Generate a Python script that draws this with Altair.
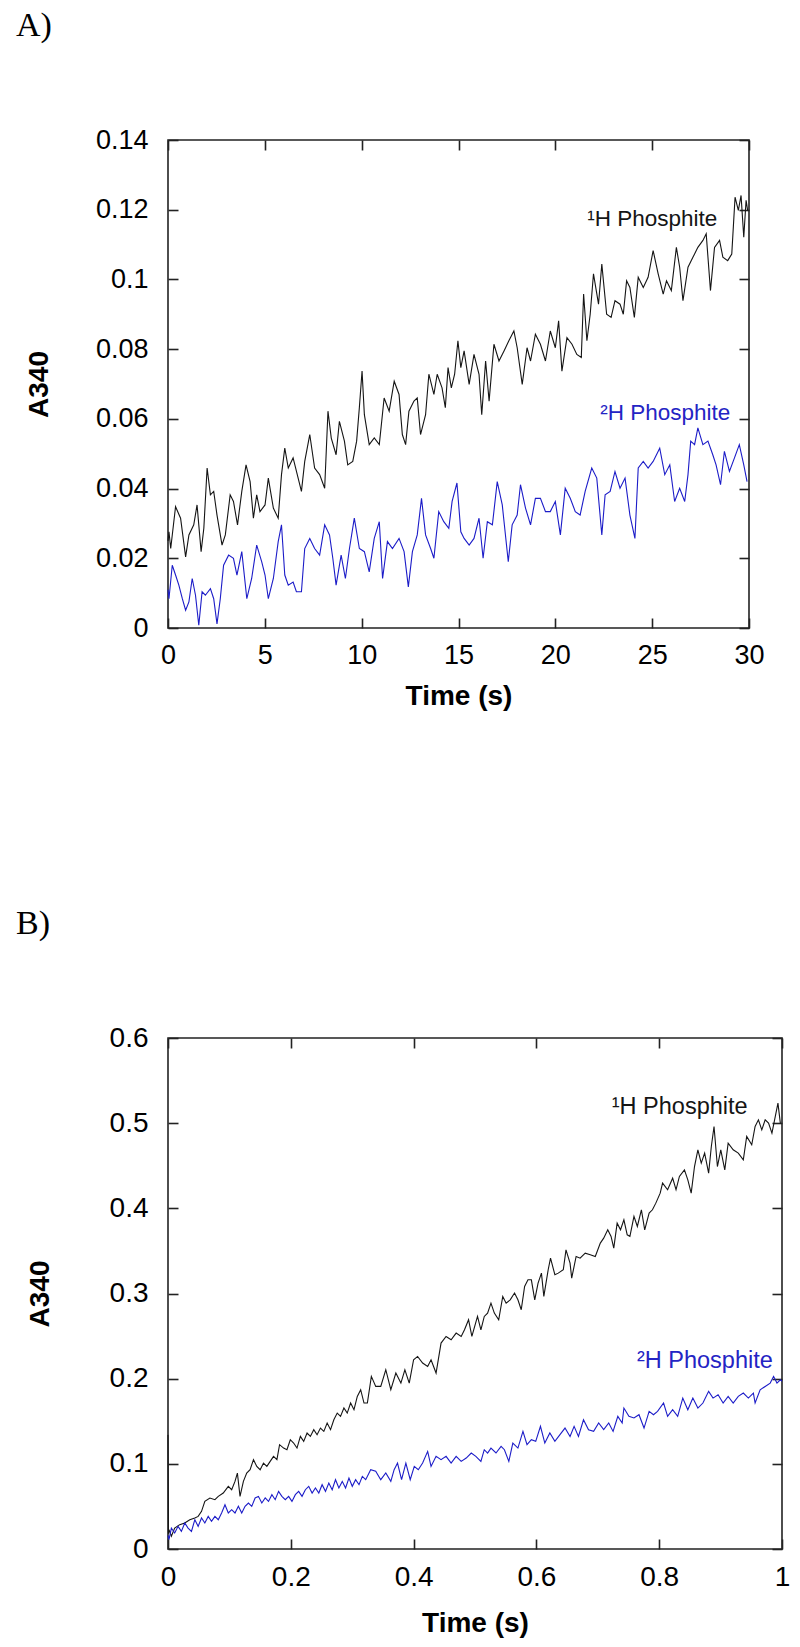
import altair as alt
import pandas as pd

# ---------------- Panel A data (time s, A340) ----------------
A_1H = [(0.0,0.0250),(0.05,0.0276),(0.14,0.0228),(0.39,0.0348),(0.65,0.0315),(0.91,0.0204),(1.08,0.0267),(1.33,0.0296),(1.50,0.0353),(1.71,0.0219),(1.85,0.0286),(2.02,0.0459),(2.19,0.0382),(2.36,0.0392),(2.53,0.0324),(2.79,0.0238),(2.96,0.0267),(3.21,0.0382),(3.38,0.0363),(3.59,0.0296),(3.81,0.0392),(4.03,0.0468),(4.24,0.0420),(4.41,0.0315),(4.58,0.0382),(4.75,0.0334),(5.01,0.0353),(5.18,0.0430),(5.44,0.0344),(5.69,0.0315),(5.86,0.0440),(6.03,0.0516),(6.21,0.0459),(6.46,0.0488),(6.72,0.0430),(6.89,0.0392),(7.06,0.0478),(7.32,0.0555),(7.57,0.0459),(7.83,0.0440),(8.09,0.0401),(8.26,0.0622),(8.43,0.0545),(8.68,0.0497),(8.85,0.0593),(9.11,0.0536),(9.28,0.0468),(9.54,0.0478),(9.74,0.0536),(9.88,0.0632),(10.02,0.0737),(10.14,0.0612),(10.39,0.0526),(10.65,0.0545),(10.91,0.0526),(11.16,0.0660),(11.42,0.0622),(11.68,0.0708),(11.93,0.0670),(12.10,0.0555),(12.27,0.0526),(12.44,0.0622),(12.70,0.0651),(12.87,0.0660),(13.04,0.0555),(13.30,0.0612),(13.47,0.0728),(13.73,0.0670),(13.90,0.0728),(14.15,0.0689),(14.32,0.0632),(14.46,0.0747),(14.63,0.0689),(14.80,0.0728),(14.97,0.0824),(15.12,0.0747),(15.29,0.0795),(15.55,0.0699),(15.80,0.0785),(16.06,0.0728),(16.20,0.0612),(16.40,0.0766),(16.58,0.0651),(16.83,0.0814),(17.09,0.0766),(17.35,0.0795),(17.60,0.0824),(17.86,0.0852),(18.03,0.0804),(18.29,0.0699),(18.54,0.0804),(18.72,0.0766),(18.97,0.0843),(19.23,0.0814),(19.49,0.0766),(19.74,0.0852),(20.00,0.0804),(20.17,0.0881),(20.34,0.0737),(20.60,0.0833),(20.86,0.0814),(21.11,0.0785),(21.34,0.0776),(21.46,0.0958),(21.63,0.0824),(21.80,0.0900),(21.97,0.1016),(22.23,0.0929),(22.40,0.1044),(22.65,0.0900),(22.88,0.0891),(23.08,0.0939),(23.34,0.0929),(23.51,0.0900),(23.68,0.0996),(23.85,0.0977),(24.08,0.0891),(24.28,0.1006),(24.54,0.0977),(24.79,0.1006),(25.05,0.1083),(25.31,0.1016),(25.57,0.0958),(25.74,0.0996),(25.99,0.0968),(26.25,0.1092),(26.42,0.1035),(26.59,0.0939),(26.85,0.1035),(27.11,0.1064),(27.36,0.1092),(27.62,0.1112),(27.79,0.1131),(28.01,0.0968),(28.22,0.1092),(28.48,0.1112),(28.65,0.1064),(28.90,0.1054),(29.11,0.1073),(29.28,0.1236),(29.45,0.1198),(29.59,0.1241),(29.73,0.1121),(29.85,0.1227),(29.93,0.1198)]

A_2H = [(0.0,0.0110),(0.05,0.0084),(0.22,0.0180),(0.39,0.0152),(0.56,0.0123),(0.74,0.0084),(0.91,0.0051),(1.08,0.0075),(1.25,0.0142),(1.42,0.0094),(1.59,0.0008),(1.76,0.0104),(1.93,0.0094),(2.19,0.0113),(2.36,0.0084),(2.53,0.0012),(2.70,0.0084),(2.87,0.0180),(3.13,0.0209),(3.38,0.0200),(3.56,0.0152),(3.81,0.0219),(4.07,0.0084),(4.32,0.0142),(4.58,0.0238),(4.84,0.0190),(5.01,0.0152),(5.18,0.0084),(5.44,0.0142),(5.69,0.0248),(5.86,0.0296),(6.03,0.0152),(6.21,0.0123),(6.46,0.0132),(6.63,0.0104),(6.89,0.0104),(7.06,0.0228),(7.32,0.0257),(7.57,0.0228),(7.83,0.0209),(8.09,0.0296),(8.34,0.0267),(8.51,0.0200),(8.68,0.0123),(8.94,0.0209),(9.16,0.0142),(9.37,0.0228),(9.62,0.0315),(9.88,0.0228),(10.14,0.0219),(10.39,0.0161),(10.65,0.0257),(10.91,0.0305),(11.08,0.0142),(11.33,0.0248),(11.59,0.0228),(11.93,0.0257),(12.19,0.0219),(12.41,0.0118),(12.62,0.0219),(12.87,0.0267),(13.09,0.0372),(13.30,0.0267),(13.56,0.0228),(13.73,0.0200),(13.98,0.0334),(14.24,0.0305),(14.50,0.0286),(14.67,0.0363),(14.92,0.0416),(15.12,0.0276),(15.29,0.0257),(15.55,0.0238),(15.80,0.0257),(16.06,0.0315),(16.27,0.0200),(16.49,0.0305),(16.75,0.0296),(17.00,0.0420),(17.26,0.0353),(17.57,0.0190),(17.77,0.0296),(18.03,0.0324),(18.20,0.0411),(18.46,0.0344),(18.72,0.0296),(18.97,0.0372),(19.23,0.0372),(19.49,0.0334),(19.74,0.0334),(20.00,0.0363),(20.26,0.0267),(20.51,0.0401),(20.77,0.0372),(21.03,0.0334),(21.28,0.0324),(21.54,0.0392),(21.88,0.0459),(22.14,0.0430),(22.40,0.0267),(22.57,0.0382),(22.83,0.0392),(23.08,0.0449),(23.34,0.0401),(23.60,0.0430),(23.85,0.0324),(24.11,0.0257),(24.28,0.0459),(24.54,0.0478),(24.79,0.0459),(25.05,0.0478),(25.39,0.0516),(25.65,0.0440),(25.91,0.0468),(26.16,0.0363),(26.42,0.0401),(26.68,0.0363),(26.85,0.0440),(26.99,0.0536),(27.19,0.0526),(27.36,0.0574),(27.62,0.0526),(27.88,0.0536),(28.13,0.0497),(28.30,0.0468),(28.53,0.0411),(28.73,0.0507),(28.99,0.0449),(29.25,0.0488),(29.50,0.0526),(29.73,0.0468),(29.90,0.0420)]

# ---------------- Panel B data (time s, A340) ----------------
B_1H = [(0.0,0.134),(0.0008,0.0180),(0.0016,0.0227),(0.0055,0.0149),(0.0109,0.0246),(0.0191,0.0286),(0.0273,0.0305),(0.0355,0.0344),(0.0437,0.0364),(0.0491,0.0383),(0.0546,0.0442),(0.0600,0.0559),(0.0682,0.0599),(0.0764,0.0579),(0.0819,0.0618),(0.0900,0.0657),(0.0982,0.0736),(0.1037,0.0696),(0.1091,0.0794),(0.1130,0.0892),(0.1173,0.0618),(0.1228,0.0794),(0.1282,0.0892),(0.1337,0.0931),(0.1392,0.1049),(0.1446,0.0970),(0.1501,0.0931),(0.1555,0.1009),(0.1610,0.0970),(0.1664,0.1029),(0.1719,0.1088),(0.1774,0.1049),(0.1817,0.1225),(0.1883,0.1185),(0.1937,0.1166),(0.1992,0.1283),(0.2046,0.1244),(0.2101,0.1185),(0.2156,0.1322),(0.2210,0.1264),(0.2265,0.1362),(0.2319,0.1322),(0.2374,0.1401),(0.2428,0.1342),(0.2483,0.1420),(0.2538,0.1381),(0.2592,0.1479),(0.2647,0.1401),(0.2701,0.1518),(0.2756,0.1596),(0.2810,0.1557),(0.2865,0.1655),(0.2919,0.1596),(0.2974,0.1714),(0.3029,0.1635),(0.3083,0.1792),(0.3138,0.1870),(0.3192,0.1714),(0.3247,0.1714),(0.3312,0.2027),(0.3383,0.1909),(0.3465,0.1909),(0.3547,0.2105),(0.3629,0.1870),(0.3711,0.2066),(0.3793,0.1948),(0.3858,0.2105),(0.3929,0.1948),(0.4000,0.2222),(0.4065,0.2261),(0.4147,0.2183),(0.4229,0.2144),(0.4284,0.2222),(0.4366,0.2066),(0.4447,0.2418),(0.4529,0.2496),(0.4611,0.2457),(0.4693,0.2535),(0.4775,0.2496),(0.4829,0.2574),(0.4895,0.2692),(0.4949,0.2496),(0.5041,0.2731),(0.5096,0.2574),(0.5151,0.2731),(0.5205,0.2770),(0.5260,0.2887),(0.5315,0.2770),(0.5386,0.2692),(0.5452,0.2966),(0.5507,0.2887),(0.5573,0.2926),(0.5644,0.3005),(0.5699,0.2926),(0.5753,0.2809),(0.5808,0.3083),(0.5863,0.3161),(0.5918,0.3161),(0.5973,0.2926),(0.6027,0.3122),(0.6082,0.3239),(0.6121,0.2966),(0.6192,0.3279),(0.6230,0.3415),(0.6301,0.3220),(0.6356,0.3239),(0.6438,0.3279),(0.6482,0.3513),(0.6548,0.3357),(0.6575,0.3181),(0.6647,0.3435),(0.6712,0.3415),(0.6795,0.3474),(0.6877,0.3455),(0.6959,0.3435),(0.7041,0.3592),(0.7096,0.3650),(0.7162,0.3748),(0.7216,0.3670),(0.7260,0.3533),(0.7315,0.3826),(0.7370,0.3748),(0.7425,0.3865),(0.7479,0.3689),(0.7523,0.3670),(0.7589,0.3905),(0.7644,0.3787),(0.7710,0.3983),(0.7764,0.3748),(0.7836,0.3944),(0.7890,0.3983),(0.7945,0.4061),(0.8016,0.4178),(0.8055,0.4296),(0.8137,0.4218),(0.8219,0.4354),(0.8274,0.4218),(0.8329,0.4374),(0.8411,0.4452),(0.8466,0.4335),(0.8521,0.4178),(0.8575,0.4491),(0.8630,0.4687),(0.8685,0.4531),(0.8740,0.4648),(0.8805,0.4413),(0.8849,0.4726),(0.8893,0.4961),(0.8948,0.4491),(0.9003,0.4687),(0.9068,0.4452),(0.9123,0.4765),(0.9205,0.4687),(0.9288,0.4648),(0.9370,0.4570),(0.9425,0.4844),(0.9507,0.4746),(0.9562,0.4961),(0.9616,0.5039),(0.9671,0.4922),(0.9726,0.5039),(0.9781,0.5000),(0.9836,0.4883),(0.9890,0.5078),(0.9934,0.5235),(0.9973,0.5000)]

B_2H = [(0.0,0.0160),(0.0016,0.0110),(0.0055,0.0246),(0.0109,0.0188),(0.0164,0.0266),(0.0218,0.0207),(0.0273,0.0305),(0.0327,0.0246),(0.0382,0.0207),(0.0437,0.0344),(0.0491,0.0266),(0.0546,0.0364),(0.0600,0.0305),(0.0655,0.0383),(0.0709,0.0325),(0.0764,0.0383),(0.0819,0.0344),(0.0873,0.0423),(0.0928,0.0520),(0.0982,0.0423),(0.1037,0.0462),(0.1091,0.0423),(0.1146,0.0501),(0.1201,0.0423),(0.1255,0.0501),(0.1310,0.0540),(0.1364,0.0501),(0.1419,0.0599),(0.1473,0.0618),(0.1528,0.0540),(0.1583,0.0599),(0.1637,0.0559),(0.1692,0.0638),(0.1746,0.0579),(0.1801,0.0677),(0.1855,0.0618),(0.1910,0.0579),(0.1965,0.0618),(0.2019,0.0559),(0.2074,0.0638),(0.2128,0.0677),(0.2183,0.0618),(0.2237,0.0696),(0.2292,0.0736),(0.2347,0.0657),(0.2401,0.0716),(0.2456,0.0657),(0.2510,0.0755),(0.2565,0.0677),(0.2619,0.0775),(0.2674,0.0696),(0.2728,0.0814),(0.2783,0.0716),(0.2838,0.0794),(0.2892,0.0716),(0.2947,0.0833),(0.3001,0.0736),(0.3056,0.0814),(0.3111,0.0755),(0.3165,0.0853),(0.3220,0.0814),(0.3301,0.0931),(0.3383,0.0912),(0.3465,0.0814),(0.3547,0.0892),(0.3629,0.0794),(0.3683,0.0931),(0.3738,0.1009),(0.3804,0.0814),(0.3874,0.1009),(0.3945,0.0814),(0.4011,0.0970),(0.4076,0.0931),(0.4147,0.1009),(0.4229,0.1146),(0.4284,0.0970),(0.4366,0.1088),(0.4447,0.1049),(0.4529,0.1088),(0.4611,0.1009),(0.4693,0.1088),(0.4775,0.1029),(0.4857,0.1068),(0.4939,0.1127),(0.5014,0.1088),(0.5096,0.1029),(0.5151,0.1166),(0.5205,0.1127),(0.5260,0.1185),(0.5342,0.1127),(0.5425,0.1205),(0.5479,0.1166),(0.5551,0.1029),(0.5616,0.1244),(0.5699,0.1185),(0.5781,0.1381),(0.5847,0.1225),(0.5918,0.1283),(0.5989,0.1264),(0.6066,0.1440),(0.6137,0.1244),(0.6219,0.1362),(0.6301,0.1264),(0.6384,0.1342),(0.6466,0.1420),(0.6548,0.1322),(0.6614,0.1440),(0.6685,0.1322),(0.6767,0.1518),(0.6849,0.1401),(0.6932,0.1381),(0.7014,0.1479),(0.7096,0.1401),(0.7178,0.1479),(0.7249,0.1381),(0.7326,0.1557),(0.7397,0.1479),(0.7425,0.1655),(0.7507,0.1557),(0.7589,0.1538),(0.7671,0.1577),(0.7753,0.1420),(0.7836,0.1616),(0.7907,0.1577),(0.7973,0.1616),(0.8071,0.1714),(0.8137,0.1557),(0.8219,0.1635),(0.8301,0.1557),(0.8384,0.1772),(0.8466,0.1635),(0.8548,0.1772),(0.8630,0.1655),(0.8712,0.1714),(0.8805,0.1851),(0.8877,0.1772),(0.8959,0.1811),(0.9041,0.1714),(0.9123,0.1792),(0.9205,0.1714),(0.9288,0.1792),(0.9370,0.1831),(0.9452,0.1772),(0.9534,0.1831),(0.9562,0.1714),(0.9644,0.1870),(0.9726,0.1909),(0.9808,0.1948),(0.9863,0.2027),(0.9918,0.1948),(0.9973,0.1987),(1.0,0.1970)]

# series names / colours
series_names = ["1H Phosphite", "2H Phosphite"]
series_colors = ["#151515", "#1c1cc8"]
label_texts = ["\u00b9H Phosphite", "\u00b2H Phosphite"]
label_colors = ["#151515", "#2424c4"]

# label anchor positions (data units, right-aligned)
A_label_t = [28.36, 29.03]
A_label_v = [0.1153, 0.0597]
B_label_t = [0.944, 0.985]
B_label_v = [0.5108, 0.2125]

A_xticks = [0, 5, 10, 15, 20, 25, 30]
A_yticks = [0, 0.02, 0.04, 0.06, 0.08, 0.1, 0.12, 0.14]
B_xticks = [0, 0.2, 0.4, 0.6, 0.8, 1]
B_yticks = [0, 0.1, 0.2, 0.3, 0.4, 0.5, 0.6]

FONT = "Liberation Sans"


def line_df(s1, s2):
    rows = []
    for name, col, pts in zip(series_names, series_colors, [s1, s2]):
        for t, v in pts:
            rows.append({"t": t, "v": v, "series": name, "col": col})
    return pd.DataFrame(rows)


def label_df(ts, vs):
    return pd.DataFrame({"t": ts, "v": vs, "label": label_texts, "col": label_colors})


def panel(ldf, tdf, xdom, ydom, xticks, yticks, W, H, ttl, ttl_dx, ttl_off,
          lab_fs, text_fs, ytp, xtp):
    inward = {"expr": "-10"}
    base_x = alt.X(
        "t:Q",
        scale=alt.Scale(domain=xdom, nice=False, zero=False),
        axis=alt.Axis(orient="bottom", values=xticks, format="~g", title="Time (s)",
                      tickSize=inward, labelPadding=24, titlePadding=xtp,
                      domain=False, grid=False, labelFlush=False, labelOverlap=False,
                      labelFontSize=lab_fs, titleFontSize=28, titleFontWeight="bold"),
    )
    base_y = alt.Y(
        "v:Q",
        scale=alt.Scale(domain=ydom, nice=False, zero=False),
        axis=alt.Axis(orient="left", values=yticks, format="~g", title="A340",
                      tickSize=inward, labelPadding=30, titlePadding=ytp,
                      domain=False, grid=False, labelFlush=False, labelOverlap=False,
                      labelFontSize=lab_fs, titleFontSize=28, titleFontWeight="bold"),
    )
    lines = alt.Chart(ldf).mark_line(strokeWidth=1.1).encode(
        x=base_x, y=base_y,
        color=alt.Color("col:N", scale=None),
        detail="series:N",
    )
    texts = alt.Chart(tdf).mark_text(
        align="right", baseline="alphabetic", font=FONT, fontSize=text_fs
    ).encode(
        x=alt.X("t:Q", scale=alt.Scale(domain=xdom, nice=False, zero=False),
                axis=alt.Axis(orient="top", values=xticks, labels=False, title=None,
                              tickSize=inward, domain=False, grid=False)),
        y=alt.Y("v:Q", scale=alt.Scale(domain=ydom, nice=False, zero=False),
                axis=alt.Axis(orient="right", values=yticks, labels=False, title=None,
                              tickSize=inward, domain=False, grid=False)),
        text="label:N",
        color=alt.Color("col:N", scale=None),
    )
    return alt.layer(lines, texts).resolve_axis(x="independent", y="independent").properties(
        width=W, height=H,
        title=alt.TitleParams(text=ttl, anchor="start", frame="group", dx=ttl_dx, offset=ttl_off,
                              font="Liberation Serif", fontSize=34, fontWeight="normal",
                              color="black"),
    )


pA = panel(line_df(A_1H, A_2H), label_df(A_label_t, A_label_v), [0, 30], [0, 0.14],
           A_xticks, A_yticks, 581, 488, "A)", -152, 83, 27, 22.5, 42, 14)
pB = panel(line_df(B_1H, B_2H), label_df(B_label_t, B_label_v), [0, 1], [0, 0.6],
           B_xticks, B_yticks, 614, 511, "B)", -152, 83, 28, 23.5, 55, 18)

chart = alt.concat(pA, pB, columns=1, spacing=195, align="none",
                   padding={"left": 7, "top": 0, "right": 1, "bottom": 0}).configure_view(
    stroke="#222222", strokeWidth=1.6
).configure_axis(
    labelFont=FONT, titleFont=FONT, labelColor="black", titleColor="black",
    tickColor="#222222", tickWidth=1.6
)

chart.save("out.html", embed_options={"renderer": "svg", "actions": False})
